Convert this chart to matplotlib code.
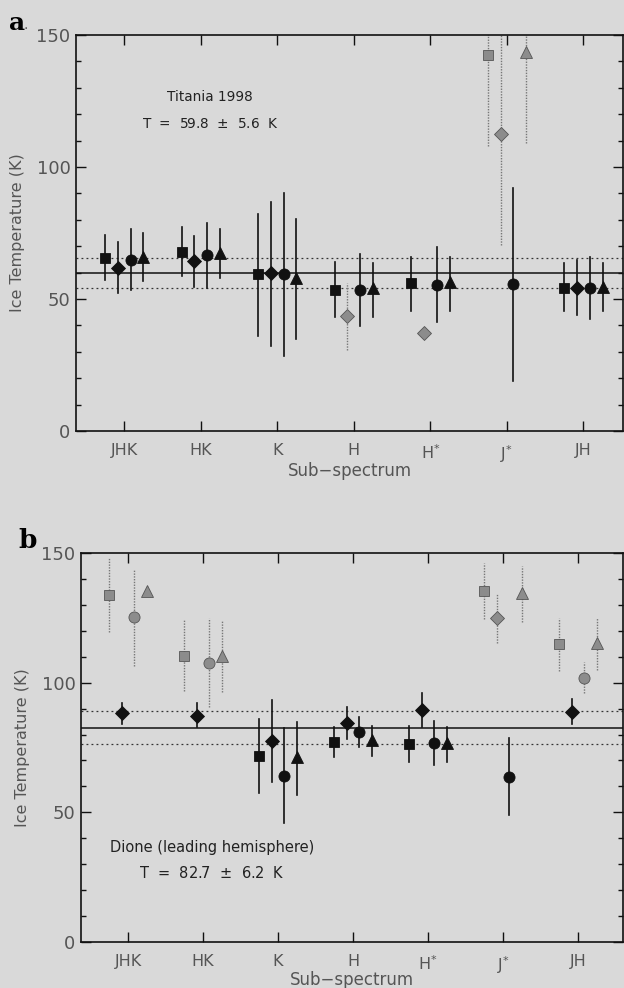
import numpy as np
import matplotlib.pyplot as plt
from matplotlib.ticker import MultipleLocator

# sub-spectrum categories
categories = ['JHK', 'HK', 'K', 'H', r'H$\mathregular{^{*}}$', r'J$\mathregular{^{*}}$', 'JH']

# panel a: Titania 1998  (value, lower end, upper end of error bar)
sq_a = [65.5, 67.8, 59.5, 53.4, 56.0, 142.4, 54.2]
sq_a_lo = [57.2, 58.7, 36.0, 43.2, 45.5, 108.0, 45.5]
sq_a_hi = [74.2, 77.3, 82.2, 64.0, 66.0, 155.0, 63.6]
di_a = [61.7, 64.4, 59.8, 43.6, 37.1, 112.5, 54.2]
di_a_lo = [52.3, 54.5, 32.2, 30.7, 37.1, 70.5, 44.0]
di_a_hi = [71.6, 73.9, 86.7, 56.0, 37.1, 155.0, 64.8]
ci_a = [64.8, 66.7, 59.5, 53.4, 55.3, 55.7, 54.2]
ci_a_lo = [53.4, 54.2, 28.4, 39.8, 41.3, 19.0, 42.4]
ci_a_hi = [76.5, 78.8, 90.0, 67.0, 69.7, 92.0, 66.0]
tr_a = [66.0, 67.4, 58.0, 54.2, 56.4, 143.5, 54.5]
tr_a_lo = [56.8, 58.0, 34.8, 43.2, 45.5, 109.0, 45.5]
tr_a_hi = [75.0, 76.5, 80.3, 63.6, 66.0, 155.0, 63.6]
# rejected (grey) points, by category index
gray_a = {'s': [5], 'D': [3, 4, 5], 'o': [], '^': [5]}
mean_a, sig_a = 59.8, 5.6

# panel b: Dione leading hemisphere
sq_b = [133.8, 110.3, 71.7, 77.1, 76.4, 135.4, 114.9]
sq_b_lo = [119.5, 96.8, 57.5, 71.3, 69.4, 124.6, 104.5]
sq_b_hi = [148.0, 124.2, 86.0, 83.0, 83.3, 146.2, 125.0]
di_b = [88.3, 87.2, 77.5, 84.5, 89.5, 125.0, 88.7]
di_b_lo = [84.0, 83.0, 61.7, 78.3, 83.0, 115.3, 84.0]
di_b_hi = [92.2, 92.2, 93.3, 90.6, 96.0, 134.2, 93.7]
ci_b = [125.3, 107.6, 64.0, 81.0, 76.7, 63.6, 101.8]
ci_b_lo = [106.4, 90.6, 45.9, 75.2, 68.3, 49.0, 96.0]
ci_b_hi = [143.8, 125.0, 82.5, 86.8, 85.2, 78.7, 108.0]
tr_b = [135.4, 110.3, 71.3, 77.9, 76.7, 134.6, 115.3]
tr_b_lo = [133.5, 96.4, 56.7, 71.7, 69.4, 123.4, 104.9]
tr_b_hi = [137.5, 123.8, 84.8, 83.3, 83.0, 145.0, 125.0]
gray_b = {'s': [0, 1, 5, 6], 'D': [5], 'o': [0, 1, 6], '^': [0, 1, 5, 6]}
mean_b, sig_b = 82.7, 6.2

bg = '#d9d9d9'
ink = '#111111'
grey = '#8c8c8c'
txt = '#555555'

markers = ['s', 'D', 'o', '^']
offsets = [-0.25, -0.083, 0.083, 0.25]
msizes = {'s': 6.5, 'D': 7.5, 'o': 8, '^': 9}

plt.rcParams['font.family'] = ['DejaVu Sans']

fig = plt.figure(figsize=(6.24, 9.88), dpi=100, facecolor=bg)


def panel(ax, series, gray, mean, sig, xlim):
    ax.set_facecolor(bg)
    x = np.arange(1, len(categories) + 1)
    for (v, lo, hi), m, off in zip(series, markers, offsets):
        for i in range(len(x)):
            g = i in gray[m]
            c = grey if g else ink
            ax.plot([x[i] + off] * 2, [lo[i], hi[i]], color='#777777' if g else ink,
                    lw=1.0 if g else 1.2, ls=(0, (1, 1)) if g else '-', zorder=2)
            ax.plot(x[i] + off, v[i], marker=m, ms=msizes[m], color=c,
                    mec='#555555' if g else ink, mew=0.6, zorder=3)
    ax.axhline(mean, color=ink, lw=1.1, zorder=1)
    ax.axhline(mean + sig, color='#333333', lw=0.9, ls=(0, (1.5, 2.5)), zorder=1)
    ax.axhline(mean - sig, color='#333333', lw=0.9, ls=(0, (1.5, 2.5)), zorder=1)
    ax.set_xlim(*xlim)
    ax.set_ylim(0, 150)
    ax.set_xticks(x)
    ax.set_xticklabels(categories)
    ax.yaxis.set_major_locator(MultipleLocator(50))
    ax.yaxis.set_minor_locator(MultipleLocator(10))
    ax.tick_params(axis='both', which='major', direction='in', length=7, width=1,
                   top=True, right=True, colors=ink, labelcolor=txt, labelsize=13)
    ax.tick_params(axis='y', which='minor', direction='in', length=3.5, width=1,
                   right=True, colors=ink)
    ax.tick_params(axis='x', which='major', pad=9, labelsize=11.5)
    ax.tick_params(axis='y', which='major', pad=4)
    for s in ax.spines.values():
        s.set_linewidth(1.2)
        s.set_color(ink)
    ax.set_ylabel('Ice Temperature (K)', fontsize=11.5, color=txt, labelpad=8)
    ax.set_xlabel('Sub\u2212spectrum', fontsize=12, color=txt, labelpad=-2)


ax1 = fig.add_axes([0.1218, 0.5638, 0.877, 0.4008])
panel(ax1, [(sq_a, sq_a_lo, sq_a_hi), (di_a, di_a_lo, di_a_hi),
            (ci_a, ci_a_lo, ci_a_hi), (tr_a, tr_a_lo, tr_a_hi)],
      gray_a, mean_a, sig_a, (0.37, 7.52))
ax1.text(2.12, 126.5, 'Titania 1998', ha='center', va='center', fontsize=9.8, color='#222222')
ax1.text(2.12, 116.3, 'T  =  59.8  $\\pm$  5.6  K', ha='center', va='center', fontsize=9.8, color='#222222')

ax2 = fig.add_axes([0.1298, 0.0466, 0.869, 0.3937])
panel(ax2, [(sq_b, sq_b_lo, sq_b_hi), (di_b, di_b_lo, di_b_hi),
            (ci_b, ci_b_lo, ci_b_hi), (tr_b, tr_b_lo, tr_b_hi)],
      gray_b, mean_b, sig_b, (0.373, 7.6))
ax2.xaxis.labelpad = -4
ax2.text(2.12, 36.6, 'Dione (leading hemisphere)', ha='center', va='center', fontsize=10.5, color='#222222')
ax2.text(2.12, 26.6, 'T  =  82.7  $\\pm$  6.2  K', ha='center', va='center', fontsize=10.5, color='#222222')

fig.text(0.014, 0.977, 'a', fontsize=18, fontweight='bold', family='DejaVu Serif', va='center')
fig.text(0.038, 0.975, '.', fontsize=10, color='#555555', va='center')
fig.text(0.03, 0.453, 'b', fontsize=19, fontweight='bold', family='DejaVu Serif', va='center')

fig.savefig('out.png', dpi=100, facecolor=bg)
